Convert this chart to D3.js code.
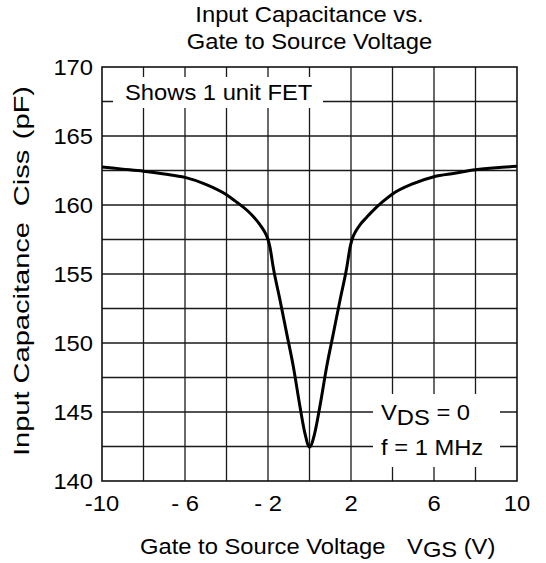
<!DOCTYPE html>
<html>
<head>
<meta charset="utf-8">
<script src="https://cdn.jsdelivr.net/npm/d3@7"></script>
<style>
  html, body { margin: 0; padding: 0; background: #fff; }
  svg { display: block; }
  text { font-family: "Liberation Sans", Arial, Helvetica, sans-serif; fill: #000; }
</style>
</head>
<body>
<svg id="chart" width="546" height="563"></svg>
<script>
// Gate-to-source voltage (V) and input capacitance Ciss (pF)
const vgs = [-10, -9, -8, -7, -6, -5, -4, -3.5, -3, -2.7, -2.4, -2.2, -2.0, -1.9, -1.75,
  -1.42, -1.1, -0.78, -0.46, -0.22, 0, 0.25, 0.5, 0.83, 1.15, 1.47, 1.8, 1.95, 2.05,
  2.25, 2.45, 2.75, 3, 3.5, 4, 5, 6, 7, 8, 9, 10];
const ciss = [162.75, 162.6, 162.45, 162.25, 162.0, 161.5, 160.75, 160.2, 159.6, 159.15,
  158.6, 158.15, 157.5, 156.9, 155.5, 153.1, 150.7, 148.3, 145.4, 143.45, 142.45, 143.45,
  145.4, 148.3, 150.7, 153.1, 155.5, 156.9, 157.5, 158.15, 158.6, 159.1, 159.5, 160.2,
  160.8, 161.55, 162.05, 162.3, 162.55, 162.7, 162.8];

const xTickValues = [-10, -6, -2, 2, 6, 10];
const xTickLabels = ["-10", "- 6", "- 2", "2", "6", "10"];
const yTickValues = [140, 145, 150, 155, 160, 165, 170];
const xGridValues = [-8, -6, -4, -2, 0, 2, 4, 6, 8];
const yGridValues = [142.5, 145, 147.5, 150, 152.5, 155, 157.5, 160, 162.5, 165, 167.5];

const titleLines = ["Input Capacitance vs.", "Gate to Source Voltage"];

const svg = d3.select("#chart");
const plotL = 102, plotR = 517, plotT = 67, plotB = 481;
const FS = 22, SX = 1.08, SX_Y = 1.32;

const x = d3.scaleLinear().domain([-10, 10]).range([plotL, plotR]);
const y = d3.scaleLinear().domain([140, 170]).range([plotB, plotT]);

// horizontally widened text helper
function label(g, tx, ty, anchor, str, opts = {}) {
  const t = g.append("text")
    .attr("transform", `translate(${tx},${ty}) scale(${SX},1)`)
    .attr("text-anchor", anchor)
    .attr("font-size", opts.size || FS);
  if (str !== null) t.text(str);
  return t;
}

// grid
const grid = svg.append("g").attr("stroke", "#1a1a1a").attr("stroke-width", 1.3);
grid.selectAll("line.v").data(xGridValues).join("line").attr("class", "v")
  .attr("x1", d => x(d)).attr("x2", d => x(d)).attr("y1", plotT).attr("y2", plotB);
grid.selectAll("line.h").data(yGridValues).join("line").attr("class", "h")
  .attr("y1", d => y(d)).attr("y2", d => y(d)).attr("x1", plotL).attr("x2", plotR);

// white panels behind the annotations
svg.append("rect").attr("x", 113).attr("y", 77).attr("width", 210).attr("height", 31).attr("fill", "#fff");
svg.append("rect").attr("x", 373).attr("y", 394).attr("width", 127).attr("height", 73).attr("fill", "#fff");

// frame
svg.append("rect").attr("x", plotL).attr("y", plotT).attr("width", plotR - plotL).attr("height", plotB - plotT)
  .attr("fill", "none").attr("stroke", "#111").attr("stroke-width", 1.6);

// curve
const line = d3.line().x((d, i) => x(vgs[i])).y(d => y(d)).curve(d3.curveMonotoneX);
svg.append("path").datum(ciss).attr("d", line)
  .attr("fill", "none").attr("stroke", "#000").attr("stroke-width", 3)
  .attr("stroke-linejoin", "round");

// title
titleLines.forEach((s, i) => label(svg, (plotL + plotR) / 2, 22 + i * 26.5, "middle", s));

// y ticks
yTickValues.forEach(v => label(svg, 93, y(v) + 8, "end", String(v)));

// x ticks
xTickValues.forEach((v, i) => label(svg, x(v), 511, "middle", xTickLabels[i]));

// annotations
label(svg, 125, 99.5, "start", "Shows 1 unit FET");
const vds = label(svg, 381, 420, "start", null);
vds.append("tspan").text("V");
vds.append("tspan").attr("dy", 5).text("DS");
vds.append("tspan").attr("dy", -5).text(" = 0");
label(svg, 381, 455, "start", "f = 1 MHz");

// x axis title
const xt = label(svg, 140, 554, "start", null);
xt.append("tspan").text("Gate to Source Voltage");
xt.append("tspan").attr("dx", 20).text("V");
xt.append("tspan").attr("dy", 3).text("GS");
xt.append("tspan").attr("dy", -3).attr("dx", 6).text("(V)");

// y axis title
const yt = svg.append("text")
  .attr("transform", `translate(29,456) rotate(-90) scale(${SX_Y},1)`)
  .attr("font-size", FS);
yt.append("tspan").text("Input Capacitance");
yt.append("tspan").attr("dx", 12).text("Ciss");
yt.append("tspan").attr("dx", 8).text("(pF)");
</script>
</body>
</html>
